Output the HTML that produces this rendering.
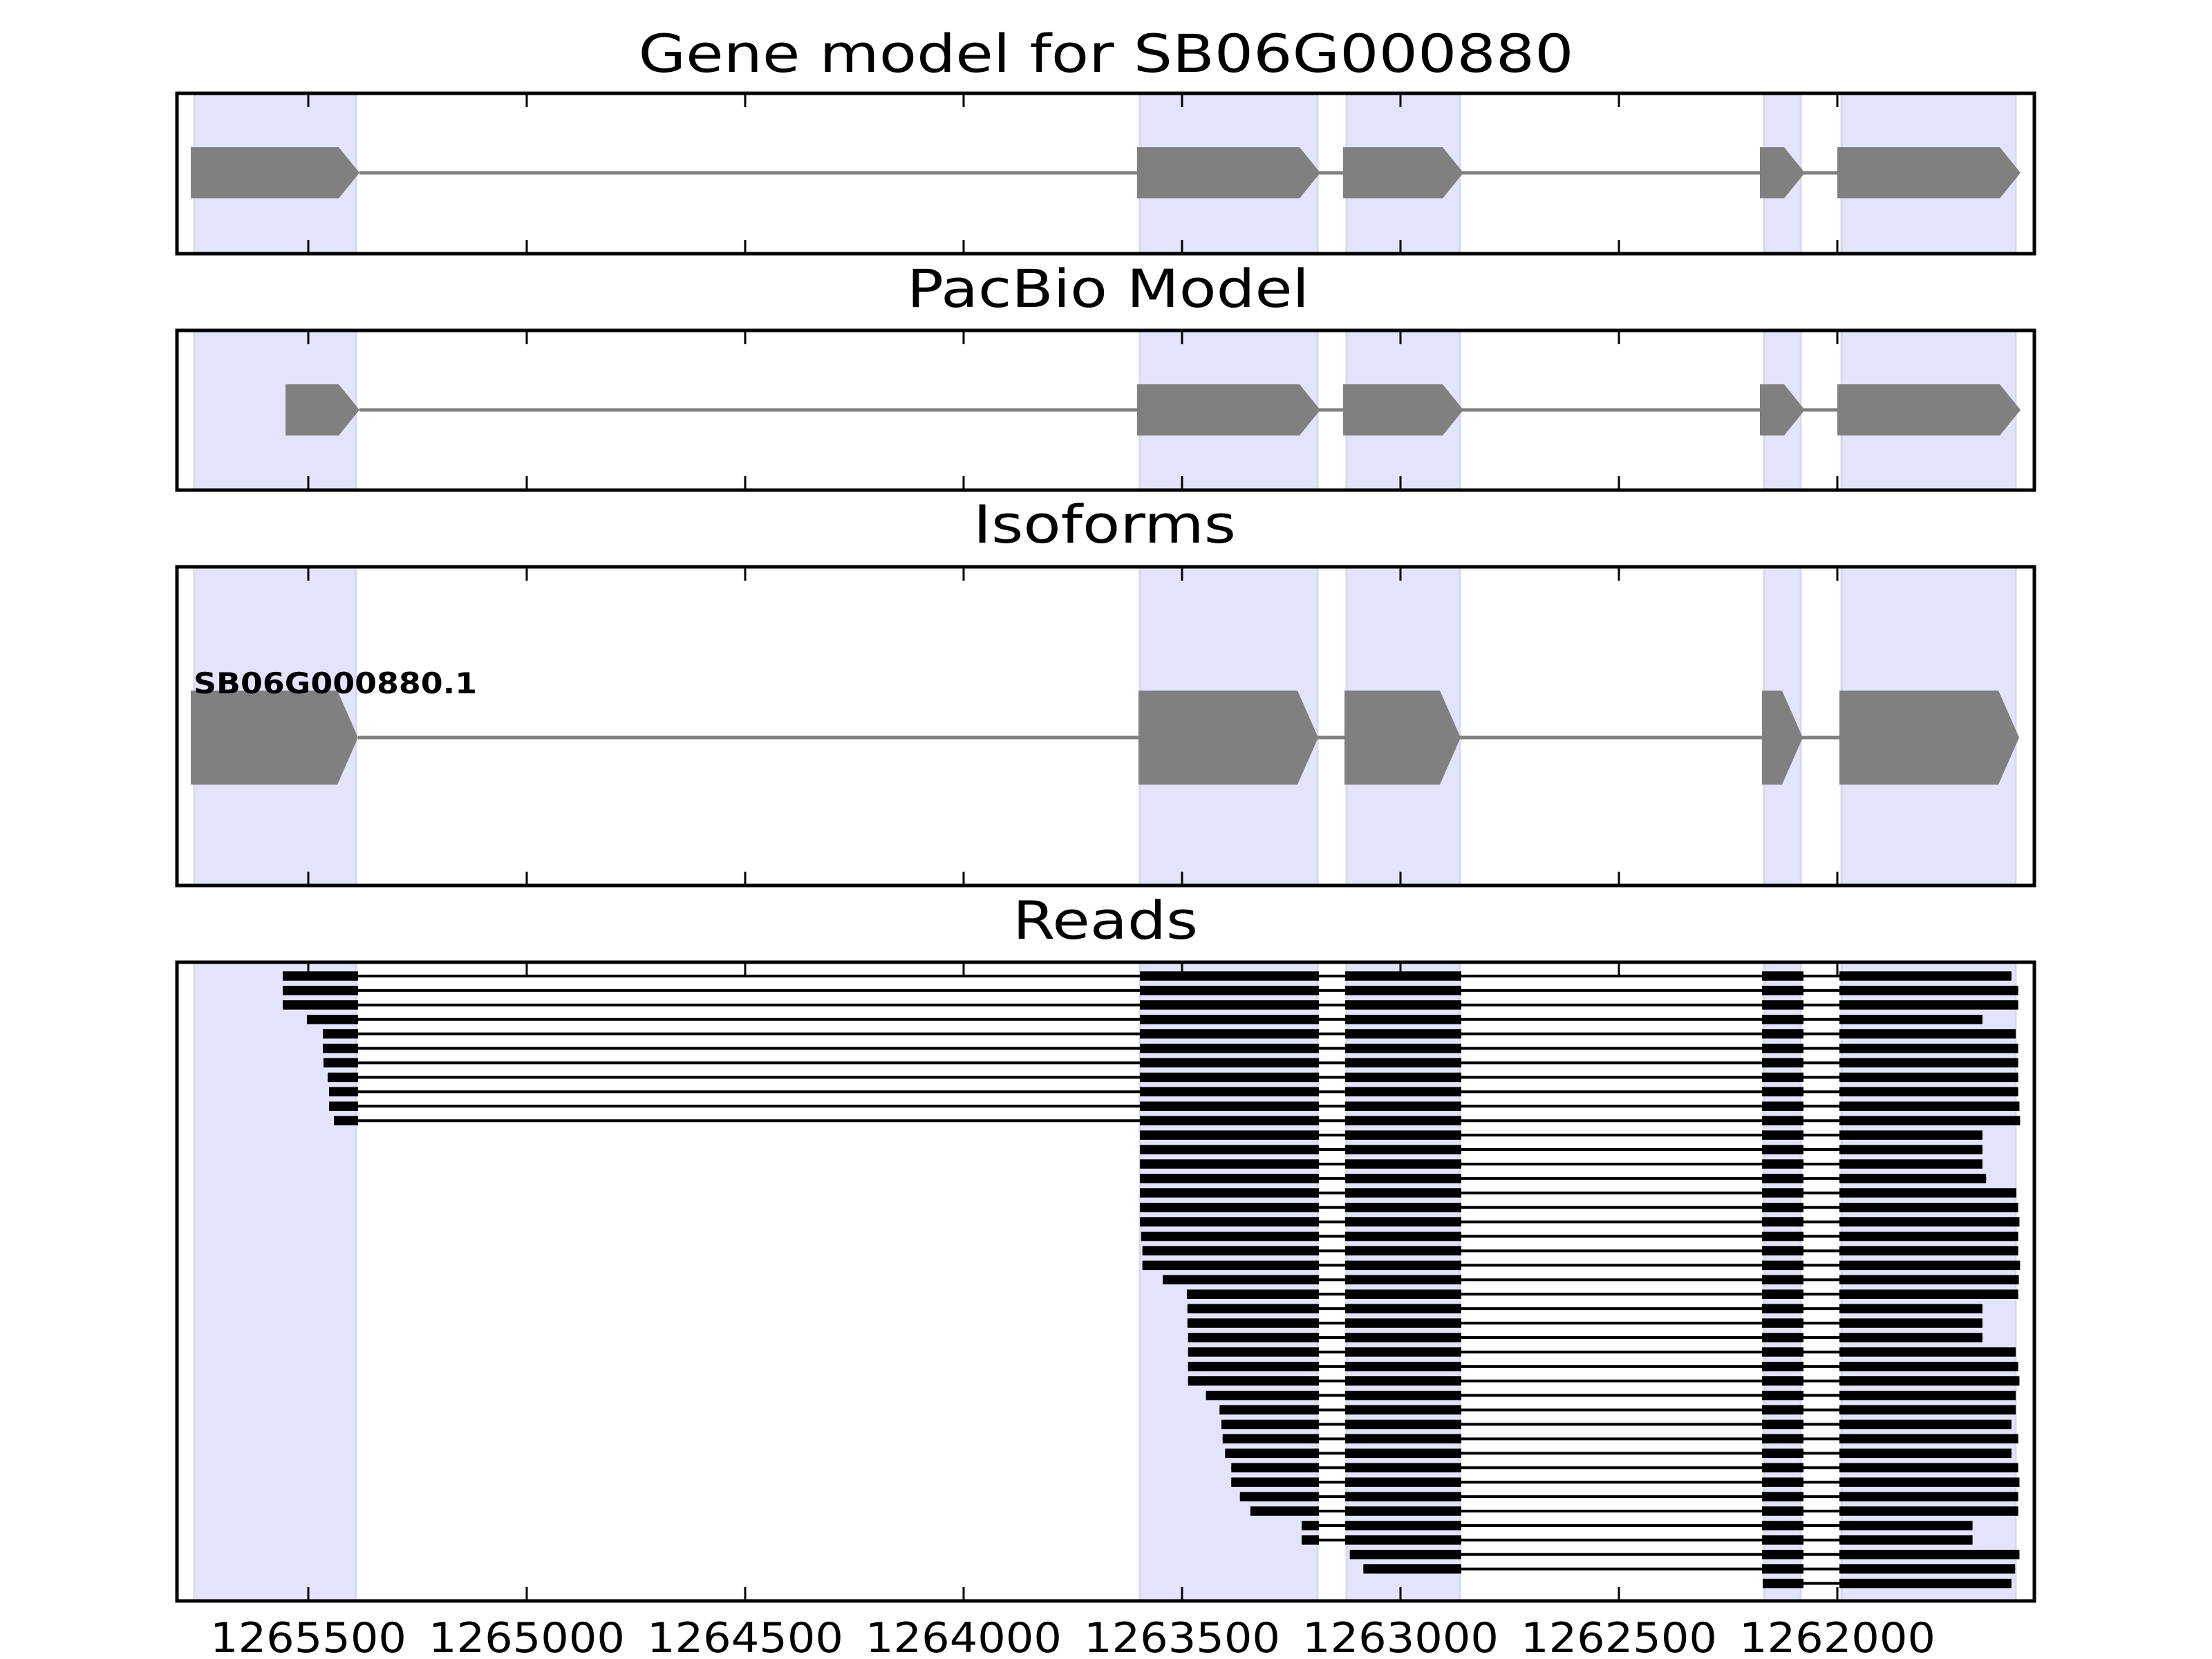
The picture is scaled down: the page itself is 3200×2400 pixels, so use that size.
<!DOCTYPE html>
<html><head><meta charset="utf-8"><style>
html,body{margin:0;padding:0;background:#fff;}
svg{display:block;}
text{font-family:"DejaVu Sans","Liberation Sans",sans-serif;fill:#000;}
</style></head><body>
<svg id="s" xmlns="http://www.w3.org/2000/svg" width="3200" height="2400" viewBox="0 0 3200 2400">
<rect width="3200" height="2400" fill="#fff"/>
<g id="g"></g>
<text x="1600" y="104" font-size="76" text-anchor="middle" textLength="1353" lengthAdjust="spacingAndGlyphs">Gene model for SB06G000880</text>
<text x="1603" y="444" font-size="76" text-anchor="middle" textLength="582" lengthAdjust="spacingAndGlyphs">PacBio Model</text>
<text x="1598" y="785" font-size="76" text-anchor="middle" textLength="380" lengthAdjust="spacingAndGlyphs">Isoforms</text>
<text x="1599" y="1358" font-size="76" text-anchor="middle" textLength="268" lengthAdjust="spacingAndGlyphs">Reads</text>
<text x="280" y="1003" font-size="42" font-weight="bold" textLength="410" lengthAdjust="spacingAndGlyphs">SB06G000880.1</text>
</svg>
<script>
var NS="http://www.w3.org/2000/svg",g=document.getElementById("g");
function el(t,a){var e=document.createElementNS(NS,t);for(var k in a)e.setAttribute(k,a[k]);g.appendChild(e);return e;}
var L=256,R=2943;
var axes=[[135,367],[478,709],[820,1281],[1392,2316]];
var shades=[[281,515],[1649,1906],[1948,2112],[2552,2605],[2664,2916]];
function tx(v){return 446+(1265500-v)*0.632;}
axes.forEach(function(a){
 shades.forEach(function(s){el("rect",{x:s[0],y:a[0],width:s[1]-s[0],height:a[1]-a[0],fill:"#e3e3fb",stroke:"#d8d8ee","stroke-width":3});});
});
function gene(ex,cy,h){
 el("line",{x1:ex[0][1],y1:cy,x2:ex[ex.length-1][0],y2:cy,stroke:"#808080","stroke-width":5});
 ex.forEach(function(e){var a=30,x0=e[0],x1=e[1];
  el("polygon",{points:x0+","+(cy-h/2)+" "+(x1-a)+","+(cy-h/2)+" "+x1+","+cy+" "+(x1-a)+","+(cy+h/2)+" "+x0+","+(cy+h/2),fill:"#808080"});});
}
gene([[276,520],[1645,1910],[1943,2117],[2546,2611],[2658,2923]],250,74);
gene([[413,520],[1645,1910],[1943,2117],[2546,2611],[2658,2923]],593,74);
gene([[276,518],[1647,1907],[1945,2113],[2549,2608],[2661,2921]],1067,136);
function zx(v){return 1600+v/1.12;}
var rows=[[409,1467],[409,1478],[409,1478],[444,1420],[467,1474],[467,1478],[468,1478],[474,1478],[476,1478],[476,1480],[483,1481]];
var r2=[[55,1420],[55,1420],[55,1420],[55,1426],[55,1475],[55,1478],[55,1480],[57,1478],[59,1478],[59,1481],[92,1479],[131,1478],[132,1420],[132,1420],[133,1420],[133,1474],[133,1478],[133,1480],[162,1474],[184,1474],[187,1467],[189,1478],[193,1467],[203,1478],[203,1480],[217,1478],[234,1478],[317,1404],[317,1404]];
var y0=1412,dy=20.92,bh=13.5,i=0;
function bar(x0,x1,y){el("rect",{x:x0,y:y-bh/2,width:x1-x0,height:bh,fill:"#000"});}
function read(start,type,end,y){
 el("line",{x1:start,y1:y,x2:end,y2:y,stroke:"#000","stroke-width":4});
 if(type==1)bar(start,518,y);
 if(type<=2)bar(type==2?start:1649,1908,y);
 if(type<=3)bar(type==3?start:1946,2114,y);
 bar(type==4?start:2549,2609,y);
 bar(2661,end,y);
}
rows.forEach(function(r){read(r[0],1,zx(r[1]),y0+dy*i);i++;});
r2.forEach(function(r){read(zx(r[0]),2,zx(r[1]),y0+dy*i);i++;});
read(zx(395),3,zx(1480),y0+dy*i);i++;
read(zx(417),3,zx(1473),y0+dy*i);i++;
read(2550,4,zx(1467),y0+dy*i);i++;
axes.forEach(function(a){
 for(var v=1265500;v>=1262000;v-=500){var x=tx(v);
  el("line",{x1:x,y1:a[0],x2:x,y2:a[0]+20,stroke:"#000","stroke-width":3});
  el("line",{x1:x,y1:a[1],x2:x,y2:a[1]-20,stroke:"#000","stroke-width":3});}
 el("rect",{x:L,y:a[0],width:R-L,height:a[1]-a[0],fill:"none",stroke:"#000","stroke-width":5});
});
for(var v=1265500;v>=1262000;v-=500){var t=el("text",{x:tx(v),y:2390,"font-size":60,"text-anchor":"middle",textLength:284,lengthAdjust:"spacingAndGlyphs"});t.textContent=v;}
</script>
</body></html>
